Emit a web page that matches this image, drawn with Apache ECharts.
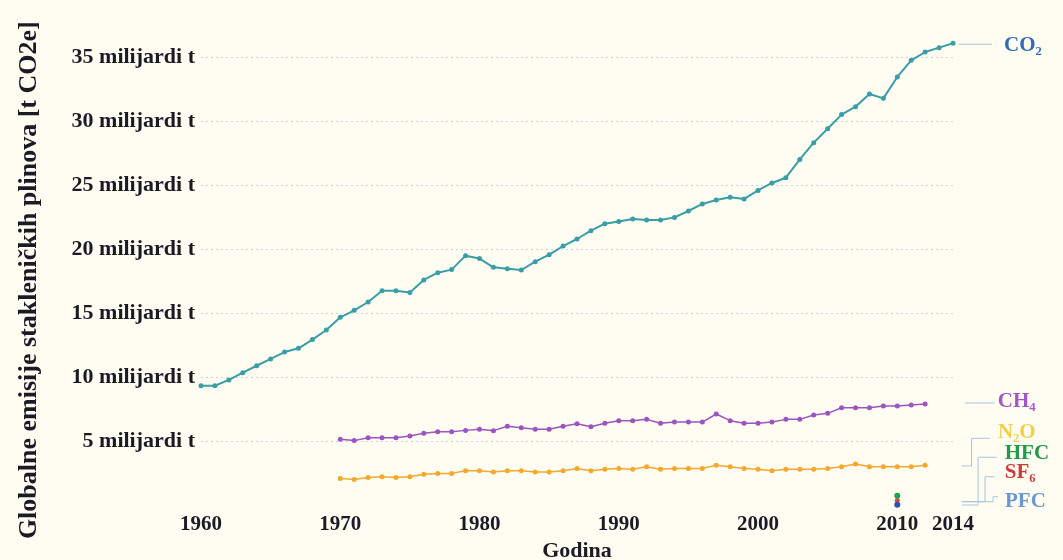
<!DOCTYPE html>
<html>
<head>
<meta charset="utf-8">
<script src="https://cdn.jsdelivr.net/npm/echarts@6/dist/echarts.min.js"></script>
<style>
html,body{margin:0;padding:0;background:#fffcf2;}
#chart{width:1063px;height:560px;}
</style>
</head>
<body>
<div id="chart"></div>
<script>
// ---- data ----
const co2Years = [1960,1961,1962,1963,1964,1965,1966,1967,1968,1969,1970,1971,1972,1973,1974,1975,1976,1977,1978,1979,1980,1981,1982,1983,1984,1985,1986,1987,1988,1989,1990,1991,1992,1993,1994,1995,1996,1997,1998,1999,2000,2001,2002,2003,2004,2005,2006,2007,2008,2009,2010,2011,2012,2013,2014];
const co2 = [9.32,9.32,9.77,10.34,10.88,11.41,11.95,12.24,12.92,13.67,14.66,15.21,15.86,16.74,16.74,16.61,17.58,18.15,18.39,19.48,19.25,18.57,18.46,18.36,19.01,19.56,20.23,20.78,21.43,21.98,22.15,22.34,22.27,22.27,22.47,22.97,23.52,23.83,24.04,23.91,24.58,25.16,25.57,27.0,28.31,29.4,30.5,31.12,32.11,31.77,33.44,34.74,35.39,35.73,36.07];
const otherYears = [1970,1971,1972,1973,1974,1975,1976,1977,1978,1979,1980,1981,1982,1983,1984,1985,1986,1987,1988,1989,1990,1991,1992,1993,1994,1995,1996,1997,1998,1999,2000,2001,2002,2003,2004,2005,2006,2007,2008,2009,2010,2011,2012];
const ch4 = [5.13,5.03,5.26,5.26,5.26,5.39,5.6,5.73,5.73,5.83,5.91,5.81,6.15,6.04,5.91,5.91,6.15,6.35,6.12,6.38,6.59,6.59,6.69,6.38,6.48,6.48,6.48,7.11,6.59,6.38,6.38,6.48,6.69,6.69,7.03,7.16,7.6,7.6,7.6,7.73,7.73,7.81,7.89];
const n2o = [2.08,2.0,2.14,2.21,2.14,2.21,2.4,2.47,2.47,2.68,2.68,2.58,2.68,2.68,2.58,2.58,2.68,2.86,2.68,2.79,2.86,2.79,2.99,2.79,2.86,2.86,2.86,3.1,2.99,2.86,2.79,2.68,2.79,2.79,2.79,2.86,2.99,3.2,2.99,2.99,2.99,2.99,3.1];
const fGasYears = [2010];
const hfc = [0.73];
const sf6 = [0.35];
const pfc = [0.02];
const xTickLabels = [1960,1970,1980,1990,2000,2010,2014];
const yTickValues = [5,10,15,20,25,30,35];

// ---- annotation (labels with leader lines, in data units) ----
const serif = '"Liberation Serif","Times New Roman","DejaVu Serif",serif';
const annotations = [
  {text:'CO\u2082', color:'#2f6db5', path:[[2014.4,36.0],[2016.8,36.0]], dx:12, dy:1},
  {text:'CH\u2084', color:'#a257c6', path:[[2014.86,7.97],[2017.0,7.97]], dx:3, dy:-1},
  {text:'N\u2082O', color:'#f2d04a', path:[[2014.62,3.05],[2015.33,3.05],[2015.33,5.21],[2016.65,5.21]], dx:8, dy:-6},
  {text:'HFC', color:'#1f9a48', path:[[2014.65,0],[2015.8,0],[2015.8,3.73],[2017.14,3.73]], dx:8, dy:-4},
  {text:'SF\u2086', color:'#cf3b3b', path:[[2014.65,0.26],[2016.3,0.26],[2016.3,2.21],[2017.0,2.21]], dx:10, dy:-4},
  {text:'PFC', color:'#6c98d0', path:[[2014.65,0.26],[2016.88,0.26],[2016.88,0.65],[2017.23,0.65]], dx:7, dy:5}
];

const zip = (xs, ys) => xs.map((x,i)=>[x, ys[i]]);

const chart = echarts.init(document.getElementById('chart'));
const option = {
  backgroundColor:'#fffcf2',
  animation:false,
  grid:{left:201, right:110, top:31.4, bottom:55, outerBoundsMode:'none', containLabel:false},
  xAxis:{
    type:'value', min:1960, max:2014,
    axisLine:{show:false}, axisTick:{show:false}, splitLine:{show:false},
    axisLabel:{customValues:xTickLabels, margin:9, color:'#1b1b26', fontFamily:serif, fontWeight:'bold', fontSize:21,
      formatter:v=>String(v)},
    name:'Godina', nameLocation:'middle', nameGap:33,
    nameTextStyle:{color:'#1b1b26', fontFamily:serif, fontWeight:'bold', fontSize:22}
  },
  yAxis:{
    type:'value', min:0, max:37,
    axisLine:{show:false},
    axisTick:{show:false, customValues:yTickValues},
    splitLine:{show:true, lineStyle:{color:'#c9d8e0', type:[2,3], width:1}},
    axisLabel:{customValues:yTickValues, margin:6, color:'#1b1b26', fontFamily:serif, fontWeight:'bold', fontSize:22,
      formatter:v=>v+' milijardi t'},
    name:'Globalne emisije stakleničkih plinova [t CO2e]', nameLocation:'middle', nameGap:159,
    nameTextStyle:{color:'#1b1b26', fontFamily:serif, fontWeight:'bold', fontSize:26, padding:[0,24,0,0]}
  },
  series:[
    {type:'line', name:'CO2', data:zip(co2Years,co2), symbol:'circle', symbolSize:5,
      lineStyle:{color:'#3a9ea6', width:2}, itemStyle:{color:'#3a9ea6'}},
    {type:'line', name:'CH4', data:zip(otherYears,ch4), symbol:'circle', symbolSize:5,
      lineStyle:{color:'#9c55c0', width:1.5}, itemStyle:{color:'#9c55c0'}},
    {type:'line', name:'N2O', data:zip(otherYears,n2o), symbol:'circle', symbolSize:5,
      lineStyle:{color:'#f5a82a', width:1.5}, itemStyle:{color:'#f5a82a'}},
    {type:'line', name:'SF6', data:zip(fGasYears,sf6), symbol:'circle', symbolSize:5, itemStyle:{color:'#d04848'}},
    {type:'line', name:'HFC', data:zip(fGasYears,hfc), symbol:'circle', symbolSize:6, itemStyle:{color:'#23a050'}},
    {type:'line', name:'PFC', data:zip(fGasYears,pfc), symbol:'circle', symbolSize:6, itemStyle:{color:'#3050b0'}},
    {type:'custom', name:'labels', coordinateSystem:'cartesian2d', clip:false, silent:true,
      data:[[2014,0]],
      renderItem:(params, api)=>{
        const children = [];
        annotations.forEach(a=>{
          const pts = a.path.map(p=>api.coord(p));
          const end = pts[pts.length-1];
          children.push({type:'polyline', shape:{points:pts}, style:{stroke:'#a9c5d8', lineWidth:1, fill:null}});
          children.push({type:'text', x:end[0]+a.dx, y:end[1]+a.dy,
            style:{text:a.text, fill:a.color, font:'bold 21px '+serif, align:'left', verticalAlign:'middle'}});
        });
        return {type:'group', children};
      }
    }
  ]
};
chart.setOption(option);
</script>
</body>
</html>
